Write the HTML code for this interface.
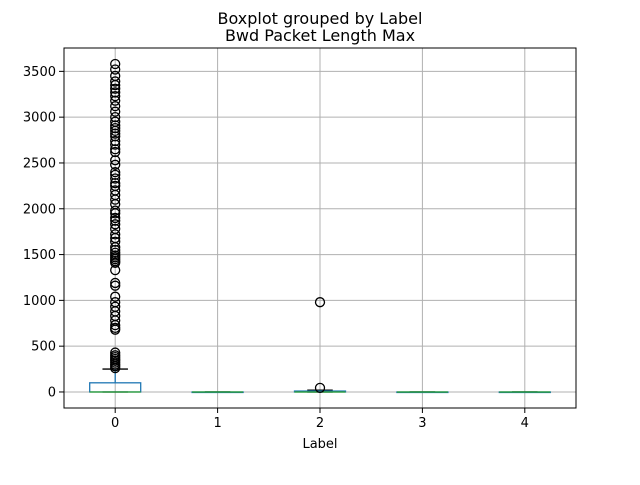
<!DOCTYPE html>
<html><head><meta charset="utf-8"><style>
body{margin:0;background:#fff}
svg text{font-family:"DejaVu Sans","Liberation Sans",sans-serif;fill:#000}
</style></head><body>
<svg id="c" width="640" height="480" xmlns="http://www.w3.org/2000/svg">
<rect width="640" height="480" fill="#fff"/>
<text x="320" y="24" text-anchor="middle" font-size="16">Boxplot grouped by Label</text>
<text x="320" y="41" text-anchor="middle" font-size="16">Bwd Packet Length Max</text>
<text x="320" y="448" text-anchor="middle" font-size="13">Label</text>
<g id="grid"></g><g id="marks"></g><g id="axes"></g>
</svg>
<script>
const categories=["0","1","2","3","4"];
const q1=[0,0,0,0,0];
const medians=[0,0,0,0,0];
const q3=[100,0,10,0,0];
const whiskLo=[0,0,0,0,0];
const whiskHi=[250,0,20,0,0];
const outliers0=[3580,3520,3450,3390,3350,3310,3270,3230,3180,3120,3060,3000,2950,2910,2880,2850,2820,2790,2740,2700,2650,2620,2530,2480,2400,2370,2330,2280,2250,2200,2150,2100,2050,1980,1950,1900,1870,1830,1780,1720,1680,1640,1580,1550,1520,1490,1470,1450,1430,1410,1330,1190,1160,1040,980,930,880,830,780,730,700,680,430,400,380,360,340,320,300,280,260];
const outliers2=[980,45];
const outliers=[outliers0,[],outliers2,[],[]];
const yTicks=[0,500,1000,1500,2000,2500,3000,3500];
const L=64,R=576,T=48,B=408;
const yMin=-175,yMax=3755;
const X=i=>L+(i+0.5)*(R-L)/categories.length;
const Y=v=>B-(v-yMin)/(yMax-yMin)*(B-T);
const NS="http://www.w3.org/2000/svg";
function mk(p,t,a){const e=document.createElementNS(NS,t);for(const k in a)e.setAttribute(k,a[k]);document.getElementById(p).appendChild(e);return e;}
yTicks.forEach(v=>{
 const g=mk('grid','line',{x1:L,x2:R,y1:Y(v),y2:Y(v),stroke:'#b0b0b0','stroke-width':1});
 
 
 const t=mk('axes','line',{x1:L-5,x2:L,y1:Y(v),y2:Y(v),stroke:'#000','stroke-width':1});
 
 
 const l=mk('axes','text',{x:L-8,y:Y(v)+4.5,'text-anchor':'end','font-size':13});
 l.textContent=v;
 
 
});
categories.forEach((c,i)=>{
 const x=X(i);
 const g=mk('grid','line',{x1:x,x2:x,y1:T,y2:B,stroke:'#b0b0b0','stroke-width':1});
 
 
 const t=mk('axes','line',{x1:x,x2:x,y1:B,y2:B+5,stroke:'#000','stroke-width':1});
 
 
 const l=mk('axes','text',{x:x,y:B+19,'text-anchor':'middle','font-size':13});
 l.textContent=c;
 
 
 const hw=25.5,cw=12.75;
 const wl=mk('marks','line',{x1:x,x2:x,y1:Y(q3[i]),y2:Y(whiskHi[i]),stroke:'#1f77b4','stroke-width':1.3});
 
 
 const cap=mk('marks','line',{x1:x-cw,x2:x+cw,y1:Y(whiskHi[i]),y2:Y(whiskHi[i]),stroke:'#000','stroke-width':1.3});
 
 
 const cap2=mk('marks','line',{x1:x-cw,x2:x+cw,y1:Y(whiskLo[i]),y2:Y(whiskLo[i]),stroke:'#000','stroke-width':1.3});
 
 
 const bx=mk('marks','rect',{x:x-hw,y:Y(q3[i]),width:2*hw,height:Math.max(Y(q1[i])-Y(q3[i]),0.5),fill:'none',stroke:'#1f77b4','stroke-width':1.3});
 
 
 const md=mk('marks','line',{x1:x-hw,x2:x+hw,y1:Y(medians[i]),y2:Y(medians[i]),stroke:'#2ca02c','stroke-width':1.3});
 
 
 outliers[i].forEach(v=>{
  const o=mk('marks','circle',{cx:x,cy:Y(v),r:4.5,fill:'none',stroke:'#000','stroke-width':1.3});
  
  
 });
});
const fr=mk('axes','rect',{x:L,y:T,width:R-L,height:B-T,fill:'none',stroke:'#000','stroke-width':1});


</script>
</body></html>
